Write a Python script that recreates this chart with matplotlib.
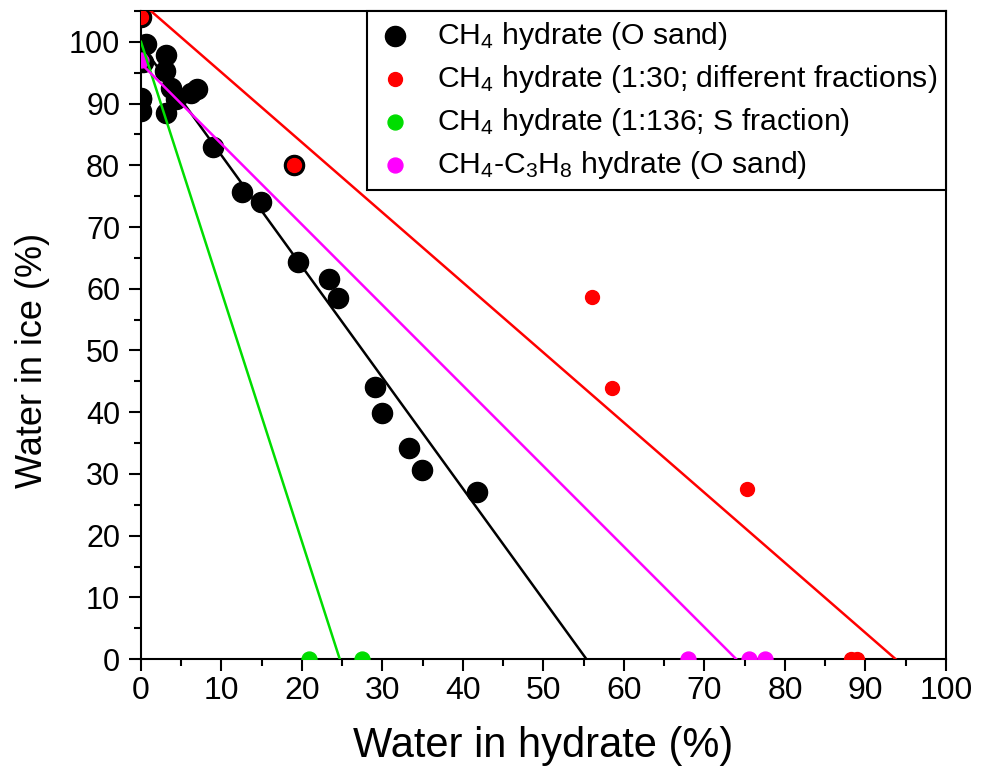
import numpy as np
import matplotlib.pyplot as plt
from matplotlib.ticker import MultipleLocator

plt.rcParams['font.family'] = ['Liberation Sans', 'DejaVu Sans']
plt.rcParams['mathtext.fontset'] = 'custom'
plt.rcParams['mathtext.rm'] = 'Liberation Sans'
plt.rcParams['mathtext.it'] = 'Liberation Sans:italic'

# CH4 hydrate (O sand)
x_o_sand = [0, 0.6, 0.2, 3.1, 3.0, 3.7, 0, 0, 3.1, 4.4, 6.2, 7.0, 8.9, 12.6, 14.9,
            19.5, 23.4, 24.5, 29.1, 29.9, 33.3, 34.9, 41.8, 19.0, 0]
y_o_sand = [90.9, 99.6, 96.8, 97.8, 95.2, 92.6, 90.8, 88.8, 88.5, 90.8, 91.7, 92.3, 83.0,
            75.6, 74.1, 64.4, 61.5, 58.5, 44.1, 39.9, 34.2, 30.6, 27.0, 80.0, 104.0]

# CH4 hydrate (1:30; different fractions)
x_130 = [0, 19.0, 56.0, 58.5, 75.3, 88.2, 88.9]
y_130 = [104.0, 80.0, 58.7, 44.0, 27.6, 0, 0]

# CH4 hydrate (1:136; S fraction)
x_1136 = [20.9, 27.5]
y_1136 = [0, 0]

# CH4-C3H8 hydrate (O sand)
x_c3h8 = [0, 67.9, 75.5, 77.5]
y_c3h8 = [97.0, 0, 0, 0]

# linear trend lines: intercept, slope
fit_o_sand = (99.6, -1.80)
fit_130 = (106.4, -1.135)
fit_1136 = (100.0, -4.05)
fit_c3h8 = (96.5, -1.305)

fig = plt.figure(figsize=(9.86, 7.8), dpi=100)
ax = fig.add_axes([0.143, 0.155, 0.8164, 0.8309])

ax.scatter(x_o_sand, y_o_sand, s=210, color='black', zorder=2,
           label=r'CH$_4$ hydrate (O sand)')
ax.scatter(x_130, y_130, s=100, color='#ff0000', zorder=3,
           label=r'CH$_4$ hydrate (1:30; different fractions)')
ax.scatter(x_1136, y_1136, s=115, color='#00dd00', zorder=3,
           label=r'CH$_4$ hydrate (1:136; S fraction)')
ax.scatter(x_c3h8, y_c3h8, s=115, color='#ff00ff', zorder=3,
           label=r'CH$_4$-C$_3$H$_8$ hydrate (O sand)')

xx = np.array([0, 100])
for (b, m), c in [(fit_o_sand, 'black'), (fit_130, '#ff0000'),
                  (fit_1136, '#00dd00'), (fit_c3h8, '#ff00ff')]:
    ax.plot(xx, b + m * xx, color=c, lw=1.8, zorder=4)

ax.set_xlim(0, 100)
ax.set_ylim(0, 105)
ax.xaxis.set_major_locator(MultipleLocator(10))
ax.xaxis.set_minor_locator(MultipleLocator(5))
ax.yaxis.set_major_locator(MultipleLocator(10))
ax.yaxis.set_minor_locator(MultipleLocator(5))
ax.tick_params(which='major', length=8.5, width=1.5, direction='out')
ax.tick_params(which='minor', length=5, width=1.5, direction='out')
ax.tick_params(axis='x', which='major', labelsize=23, pad=4)
ax.tick_params(axis='y', which='major', labelsize=22, pad=6.5)
for sp in ax.spines.values():
    sp.set_linewidth(1.5)

ax.set_xlabel('Water in hydrate (%)', fontsize=30, labelpad=14)
ax.set_ylabel('Water in ice (%)', fontsize=26)
ax.yaxis.set_label_coords(-0.113, 0.461)

leg = ax.legend(loc='upper right', fontsize=21.7, borderaxespad=0, fancybox=False,
                edgecolor='black', framealpha=1, labelspacing=0.36,
                handlelength=1.2, handletextpad=0.8, borderpad=0.3,
                scatterpoints=1)
leg.get_frame().set_linewidth(1.5)

fig.savefig('out.png', dpi=100)
